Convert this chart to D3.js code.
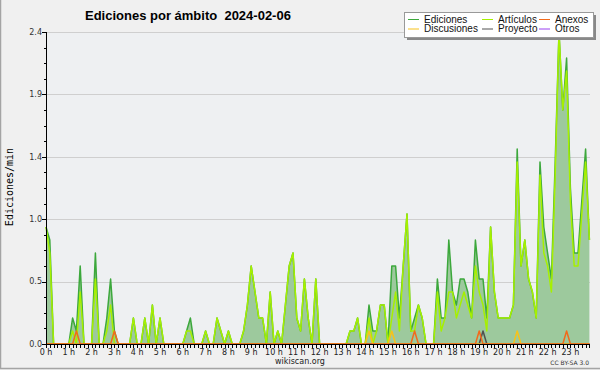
<!DOCTYPE html>
<html>
<head>
<meta charset="utf-8">
<script src="https://cdn.jsdelivr.net/npm/d3@7"></script>
<style>
body { margin: 0; background: #f0f0f0; }
svg { display: block; }
</style>
</head>
<body>
<script>
const width = 600
const height = 370

// 10-minute bins, values in edits per minute
const hourLabels = ['0 h', '1 h', '2 h', '3 h', '4 h', '5 h', '6 h', '7 h', '8 h', '9 h', '10 h', '11 h',
    '12 h', '13 h', '14 h', '15 h', '16 h', '17 h', '18 h', '19 h', '20 h', '21 h', '22 h', '23 h']
const yTicks = [0, 0.48, 0.96, 1.44, 1.92, 2.4]

const ediciones = [
    0.9, 0.8, 0, 0, 0, 0, 0, 0.2, 0.1, 0.6, 0, 0,
    0, 0.7, 0, 0, 0.2, 0.5, 0.1, 0, 0, 0, 0, 0.2,
    0, 0, 0.2, 0, 0.3, 0, 0.2, 0, 0, 0, 0, 0,
    0, 0.1, 0.2, 0, 0, 0, 0.1, 0, 0, 0.2, 0.1, 0,
    0.1, 0, 0, 0, 0.1, 0.3, 0.6, 0.4, 0.2, 0.2, 0, 0.4,
    0, 0.1, 0, 0.3, 0.6, 0.7, 0.2, 0.1, 0.5, 0.2, 0, 0.5,
    0, 0, 0, 0, 0, 0, 0, 0, 0.1, 0.1, 0.2, 0,
    0, 0.3, 0.1, 0.1, 0.3, 0.3, 0, 0.6, 0.6, 0.2, 0.6, 1.0,
    0.1, 0.2, 0.3, 0.2, 0, 0, 0, 0.5, 0.2, 0.2, 0.8, 0.4,
    0.3, 0.5, 0.5, 0.4, 0.2, 0.8, 0.5, 0.5, 0.2, 0.9, 0.4, 0.2,
    0.2, 0.2, 0.2, 0.3, 1.5, 0.6, 0.8, 0.5, 0.4, 0.2, 1.4, 0.9,
    0.7, 0.5, 1.4, 2.4, 1.8, 2.2, 1.2, 0.7, 0.7, 1.1, 1.5, 0.8
]
const articulos = [
    0.9, 0.7, 0, 0, 0, 0, 0, 0.1, 0, 0.4, 0, 0,
    0, 0.5, 0, 0, 0.1, 0.3, 0, 0, 0, 0, 0, 0.2,
    0, 0, 0.2, 0, 0.3, 0, 0.2, 0, 0, 0, 0, 0,
    0, 0.1, 0.1, 0, 0, 0, 0.1, 0, 0, 0.2, 0.1, 0,
    0.1, 0, 0, 0, 0.1, 0.3, 0.6, 0.4, 0.2, 0.2, 0, 0.4,
    0, 0.1, 0, 0.3, 0.6, 0.7, 0.2, 0.1, 0.5, 0.2, 0, 0.5,
    0, 0, 0, 0, 0, 0, 0, 0, 0.1, 0.1, 0.2, 0,
    0, 0.2, 0, 0.1, 0.3, 0.3, 0, 0.2, 0.4, 0.1, 0.6, 1.0,
    0.1, 0.1, 0.3, 0.2, 0, 0, 0, 0.4, 0.1, 0.2, 0.4, 0.4,
    0.2, 0.3, 0.4, 0.3, 0.2, 0.6, 0.4, 0.3, 0.1, 0.9, 0.4, 0.2,
    0.2, 0.2, 0.2, 0.3, 1.4, 0.6, 0.8, 0.5, 0.4, 0.2, 1.3, 0.7,
    0.6, 0.4, 1.3, 2.4, 1.8, 2.1, 1.1, 0.6, 0.6, 1.0, 1.4, 0.8
]
const anexos = [
    0, 0, 0, 0, 0, 0, 0, 0, 0.1, 0, 0, 0, 0, 0, 0, 0, 0, 0, 0.1, 0, 0, 0, 0, 0, 0, 0, 0, 0, 0, 0, 0, 0, 0, 0, 0, 0,
    0, 0, 0, 0, 0, 0, 0, 0, 0, 0, 0, 0, 0, 0, 0, 0, 0, 0, 0, 0, 0, 0, 0, 0, 0, 0, 0, 0, 0, 0, 0, 0, 0, 0, 0, 0,
    0, 0, 0, 0, 0, 0, 0, 0, 0, 0, 0, 0, 0, 0, 0, 0, 0, 0, 0, 0, 0, 0, 0, 0, 0, 0.1, 0, 0, 0, 0, 0, 0, 0, 0, 0, 0,
    0, 0, 0, 0, 0, 0, 0.1, 0, 0, 0, 0, 0, 0, 0, 0, 0, 0, 0, 0, 0, 0, 0, 0, 0, 0, 0, 0, 0, 0, 0.1, 0, 0, 0, 0, 0, 0
]
const discusiones = [
    0, 0, 0, 0, 0, 0, 0, 0, 0, 0, 0, 0, 0, 0, 0, 0, 0, 0, 0, 0, 0, 0, 0, 0, 0, 0, 0, 0, 0, 0, 0, 0, 0, 0, 0, 0,
    0, 0, 0, 0, 0, 0, 0, 0, 0, 0, 0, 0, 0, 0, 0, 0, 0, 0, 0, 0, 0, 0, 0, 0, 0, 0, 0, 0, 0, 0, 0, 0, 0, 0, 0, 0,
    0, 0, 0, 0, 0, 0, 0, 0, 0, 0, 0, 0, 0, 0.1, 0, 0, 0, 0, 0, 0.1, 0, 0, 0, 0, 0, 0, 0, 0, 0, 0, 0, 0, 0, 0, 0, 0,
    0, 0, 0, 0, 0, 0, 0, 0, 0, 0, 0, 0, 0, 0, 0, 0, 0.1, 0, 0, 0, 0, 0, 0, 0, 0, 0, 0, 0, 0, 0, 0, 0, 0, 0, 0, 0
]
const proyecto = [
    0, 0, 0, 0, 0, 0, 0, 0, 0, 0, 0, 0, 0, 0, 0, 0, 0, 0, 0, 0, 0, 0, 0, 0, 0, 0, 0, 0, 0, 0, 0, 0, 0, 0, 0, 0,
    0, 0, 0, 0, 0, 0, 0, 0, 0, 0, 0, 0, 0, 0, 0, 0, 0, 0, 0, 0, 0, 0, 0, 0, 0, 0, 0, 0, 0, 0, 0, 0, 0, 0, 0, 0,
    0, 0, 0, 0, 0, 0, 0, 0, 0, 0, 0, 0, 0, 0, 0, 0, 0, 0, 0, 0, 0, 0, 0, 0, 0, 0, 0, 0, 0, 0, 0, 0, 0, 0, 0, 0,
    0, 0, 0, 0, 0, 0, 0, 0.1, 0, 0, 0, 0, 0, 0, 0, 0, 0, 0, 0, 0, 0, 0, 0, 0, 0, 0, 0, 0, 0, 0, 0, 0, 0, 0, 0, 0
]
const otros = [
    0, 0, 0, 0, 0, 0, 0, 0, 0, 0, 0, 0, 0, 0, 0, 0, 0, 0, 0, 0, 0, 0, 0, 0, 0, 0, 0, 0, 0, 0, 0, 0, 0, 0, 0, 0,
    0, 0, 0, 0, 0, 0, 0, 0, 0, 0, 0, 0, 0, 0, 0, 0, 0, 0, 0, 0, 0, 0, 0, 0, 0, 0, 0, 0, 0, 0, 0, 0, 0, 0, 0, 0,
    0, 0, 0, 0, 0, 0, 0, 0, 0, 0, 0, 0, 0, 0, 0, 0, 0, 0, 0, 0, 0, 0, 0, 0, 0, 0, 0, 0, 0, 0, 0, 0, 0, 0, 0, 0,
    0, 0, 0, 0, 0, 0, 0, 0, 0, 0, 0, 0, 0, 0, 0, 0, 0, 0, 0, 0, 0, 0, 0, 0, 0, 0, 0, 0, 0, 0, 0, 0, 0, 0, 0, 0
]

const legendNames = ['Ediciones', 'Discusiones', 'Artículos', 'Proyecto', 'Anexos', 'Otros']
const colors = {
    'Ediciones': '#3ca83c',
    'Artículos': '#a6f000',
    'Anexos': '#f26a1b',
    'Discusiones': '#f7c21a',
    'Proyecto': '#505050',
    'Otros': '#9a40f0'
}
const seriesData = {
    'Ediciones': ediciones,
    'Artículos': articulos,
    'Anexos': anexos,
    'Discusiones': discusiones,
    'Proyecto': proyecto,
    'Otros': otros
}

const minutes = ediciones.map((d, i) => i * 10)

const x = d3.scaleLinear()
    .domain([0, 1430])
    .range([46, 589.4])

const y = d3.scaleLinear()
    .domain([0, 2.4])
    .range([344, 32])

const svg = d3.select('body')
    .append('svg')
    .attr('width', width)
    .attr('height', height)
    .attr('viewBox', `0 0 ${width} ${height}`)

svg.append('rect')
    .attr('width', width)
    .attr('height', height)
    .attr('fill', '#f0f0f0')

// frame
svg.append('path')
    .attr('d', `M0.5,0 V${height - 1.5} H${width}`)
    .attr('fill', 'none')
    .attr('stroke', '#a4a4a4')
    .attr('stroke-width', 1.5)

svg.append('rect')
    .attr('x', 46)
    .attr('y', 32)
    .attr('width', 590 - 46)
    .attr('height', 344 - 32)
    .attr('fill', '#eef0f2')

svg.append('g')
    .selectAll('line')
    .data(yTicks.filter(d => d > 0))
    .enter()
    .append('line')
    .attr('x1', 46)
    .attr('x2', 590)
    .attr('y1', d => Math.round(y(d)) + 0.5)
    .attr('y2', d => Math.round(y(d)) + 0.5)
    .attr('stroke', '#cfcfcf')

const area = d3.area()
    .x((d, i) => x(minutes[i]))
    .y0(y(0))
    .y1(d => y(d))

svg.append('path')
    .datum(ediciones)
    .attr('fill', '#9dc99d')
    .attr('d', area)

const line = d3.line()
    .x((d, i) => x(minutes[i]))
    .y(d => y(d))

const drawOrder = ['Ediciones', 'Artículos', 'Otros', 'Proyecto', 'Discusiones', 'Anexos']
svg.append('g')
    .selectAll('path')
    .data(drawOrder)
    .enter()
    .append('path')
    .attr('fill', 'none')
    .attr('stroke', d => colors[d])
    .attr('stroke-width', 1.5)
    .attr('stroke-linejoin', 'round')
    .attr('d', d => line(seriesData[d]))

// x axis
const xAxis = svg.append('g')
xAxis.append('line')
    .attr('x1', 46).attr('x2', 590)
    .attr('y1', 344.5).attr('y2', 344.5)
    .attr('stroke', '#000')
xAxis.selectAll('line.tick')
    .data(minutes)
    .enter()
    .append('line')
    .attr('class', 'tick')
    .attr('x1', d => Math.round(x(d)) + 0.5)
    .attr('x2', d => Math.round(x(d)) + 0.5)
    .attr('y1', 344)
    .attr('y2', 348)
    .attr('stroke', '#000')
xAxis.selectAll('text')
    .data(hourLabels)
    .enter()
    .append('text')
    .attr('x', (d, i) => x(i * 60))
    .attr('y', 355)
    .attr('text-anchor', 'middle')
    .attr('font-family', 'DejaVu Sans')
    .attr('font-size', 8)
    .attr('fill', '#222')
    .text(d => d)

// y axis
const yAxis = svg.append('g')
yAxis.append('line')
    .attr('x1', 46.5).attr('x2', 46.5)
    .attr('y1', 32).attr('y2', 345)
    .attr('stroke', '#000')
yAxis.selectAll('line.minor')
    .data(d3.range(0, 21).map(k => k * 0.12))
    .enter()
    .append('line')
    .attr('class', 'minor')
    .attr('x1', 44)
    .attr('x2', 46)
    .attr('y1', d => Math.round(y(d)) + 0.5)
    .attr('y2', d => Math.round(y(d)) + 0.5)
    .attr('stroke', '#000')
yAxis.selectAll('line.major')
    .data(yTicks)
    .enter()
    .append('line')
    .attr('class', 'major')
    .attr('x1', 42)
    .attr('x2', 46)
    .attr('y1', d => Math.round(y(d)) + 0.5)
    .attr('y2', d => Math.round(y(d)) + 0.5)
    .attr('stroke', '#000')
yAxis.selectAll('text')
    .data(yTicks)
    .enter()
    .append('text')
    .attr('x', 42)
    .attr('y', d => y(d))
    .attr('dy', '0.35em')
    .attr('text-anchor', 'end')
    .attr('font-family', 'DejaVu Sans')
    .attr('font-size', 8)
    .attr('fill', '#333')
    .text(d => d3.format('.1f')(d))

svg.append('text')
    .attr('transform', 'translate(13,187) rotate(-90)')
    .attr('text-anchor', 'middle')
    .attr('font-family', 'DejaVu Sans Mono')
    .attr('font-size', 10)
    .attr('fill', '#000')
    .text('Ediciones/min')

// title
svg.append('text')
    .attr('x', 85)
    .attr('y', 20)
    .attr('font-family', 'Liberation Sans')
    .attr('font-weight', 'bold')
    .attr('font-size', 13)
    .style('white-space', 'pre')
    .attr('fill', '#000')
    .text('Ediciones por ámbito  2024-02-06')

// legend
const legend = svg.append('g')
legend.append('rect')
    .attr('x', 407).attr('y', 15)
    .attr('width', 189).attr('height', 25)
    .attr('fill', '#888')
legend.append('rect')
    .attr('x', 404.5).attr('y', 12.5)
    .attr('width', 189).attr('height', 25)
    .attr('fill', '#fff')
    .attr('stroke', '#999')
const colX = [408, 482, 539]
const rowY = [19, 28.5]
const items = legend.selectAll('g.item')
    .data(legendNames)
    .enter()
    .append('g')
    .attr('class', 'item')
    .attr('transform', (d, i) => `translate(${colX[Math.floor(i / 2)]},${rowY[i % 2]})`)
items.append('line')
    .attr('x1', 0).attr('x2', 11)
    .attr('y1', 0.5).attr('y2', 0.5)
    .attr('stroke', d => colors[d])
items.append('text')
    .attr('x', 16)
    .attr('y', 3.8)
    .attr('font-family', 'Liberation Sans')
    .attr('font-size', 10)
    .attr('fill', '#111')
    .text(d => d)

svg.append('text')
    .attr('x', 300)
    .attr('y', 364)
    .attr('text-anchor', 'middle')
    .attr('font-family', 'DejaVu Sans')
    .attr('font-size', 8)
    .attr('fill', '#222')
    .text('wikiscan.org')

svg.append('text')
    .attr('x', 589)
    .attr('y', 365)
    .attr('text-anchor', 'end')
    .attr('font-family', 'DejaVu Sans')
    .attr('font-size', 6)
    .attr('fill', '#333')
    .text('CC BY-SA 3.0')
</script>
</body>
</html>
